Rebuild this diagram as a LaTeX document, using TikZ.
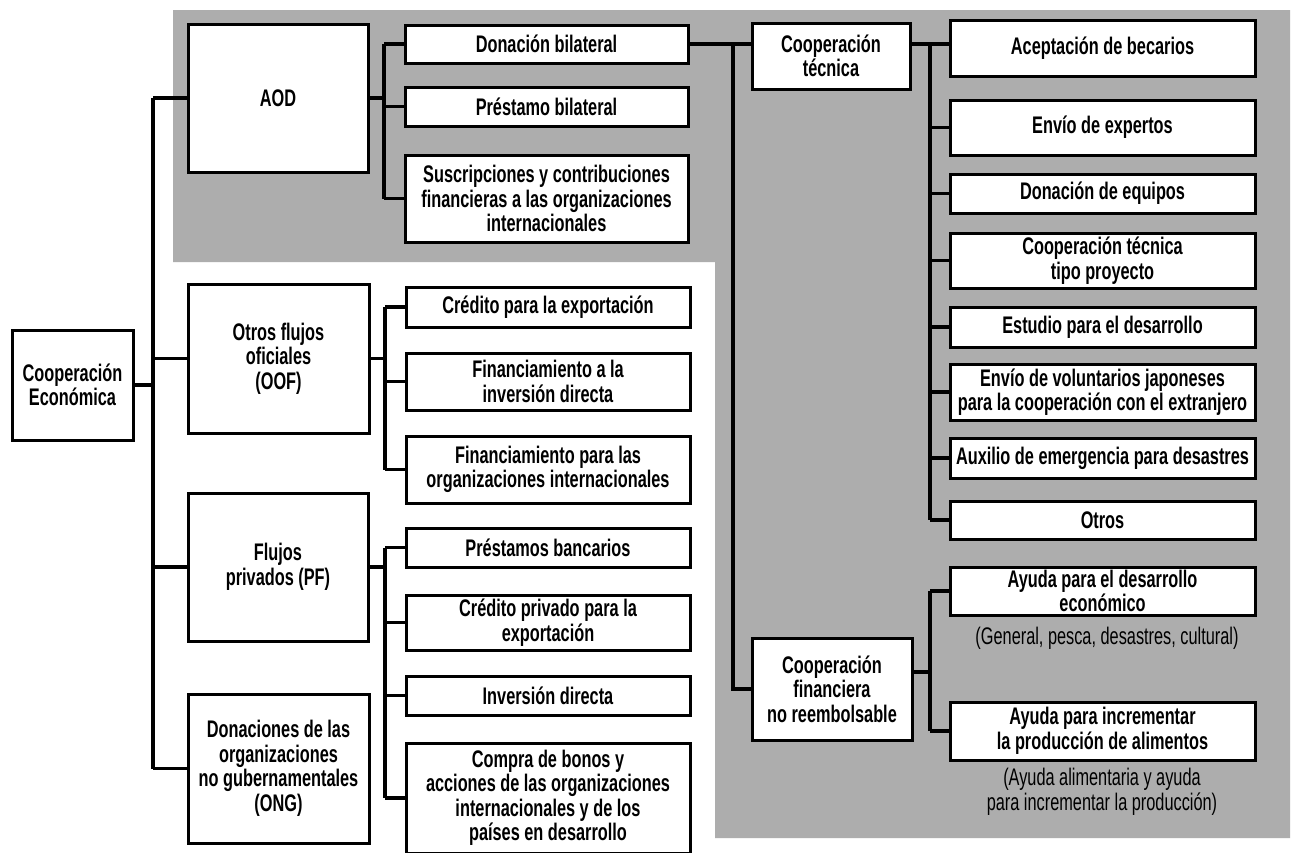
\documentclass[tikz,border=0pt]{standalone}
\usepackage{fontspec}
\setmainfont{Liberation Sans}[FakeStretch=0.68]
\definecolor{bggray}{gray}{0.68}
\begin{document}
\begin{tikzpicture}[x=1pt,y=-1pt,
  box/.style={draw=black, line width=3pt, fill=white, inner sep=0pt, align=center,
    font=\bfseries\fontsize{24}{24.5}\selectfont},
  wh/.style 2 args={minimum width=#1pt, minimum height=#2pt},
  link/.style={draw=black, line width=3.2pt},
  note/.style={align=center, font=\fontsize{24}{24.5}\selectfont}]
\useasboundingbox (0,0) rectangle (1295,852);
\fill[white] (0,0) rectangle (1295,852);
\fill[bggray] (173,10) -- (1290,10) -- (1290,838) -- (715,838) -- (715,262) -- (173,262) -- cycle;

% first level
\node[box, wh={121}{110}] (econ) at (72.5,385) {Cooperación\\Económica};
\node[box, wh={180}{148}] (aod) at (278,98) {AOD};
\node[box, wh={181}{149}] (oof) at (278.5,358.5) {Otros flujos\\oficiales\\(OOF)};
\node[box, wh={180}{148}] (pf) at (278,567) {Flujos\\privados (PF)};
\node[box, wh={181}{149}] (ong) at (278.5,768.5) {Donaciones de las\\organizaciones\\no gubernamentales\\(ONG)};

% AOD children
\node[box, wh={283}{38}] (don) at (546.5,44) {Donación bilateral};
\node[box, wh={283}{39}] (pre) at (546.5,106.5) {Préstamo bilateral};
\node[box, wh={283}{87}] (sus) at (546.5,198.5) {Suscripciones y contribuciones\\financieras a las organizaciones\\internacionales};

% OOF children
\node[box, wh={284}{40}] (cre) at (548,307) {Crédito para la exportación};
\node[box, wh={284}{57}] (fii) at (548,381.5) {Financiamiento a la\\inversión directa};
\node[box, wh={284}{67}] (fio) at (548,469.5) {Financiamiento para las\\organizaciones internacionales};

% PF children
\node[box, wh={284}{39}] (pb) at (548,547.5) {Préstamos bancarios};
\node[box, wh={284}{55}] (cp) at (548,622.5) {Crédito privado para la\\exportación};
\node[box, wh={284}{39}] (id) at (548,695.5) {Inversión directa};
\node[box, wh={284}{110}] (cb) at (548,798) {Compra de bonos y\\acciones de las organizaciones\\internacionales y de los\\países en desarrollo};

% Donacion bilateral branches
\node[box, wh={158}{66}] (ct) at (831,56) {Cooperación\\técnica};
\node[box, wh={160}{102}] (cf) at (832,689) {Cooperación\\financiera\\no reembolsable};

% tech children
\node[box, wh={305}{56}] (ab) at (1102.5,48) {Aceptación de becarios};
\node[box, wh={305}{55}] (ee) at (1102.5,127.5) {Envío de expertos};
\node[box, wh={305}{39}] (de) at (1102.5,193.5) {Donación de equipos};
\node[box, wh={305}{55}] (ctp) at (1102.5,260.5) {Cooperación técnica\\tipo proyecto};
\node[box, wh={305}{40}] (ed) at (1102.5,327) {Estudio para el desarrollo};
\node[box, wh={305}{56}] (ev) at (1102.5,392) {Envío de voluntarios japoneses\\para la cooperación con el extranjero};
\node[box, wh={305}{40}] (ae) at (1102.5,458) {Auxilio de emergencia para desastres};
\node[box, wh={305}{38}] (ot) at (1102.5,520) {Otros};

% financial children
\node[box, wh={305}{48}] (ad) at (1102.5,591) {Ayuda para el desarrollo\\económico};
\node[box, wh={305}{58}] (ai) at (1102.5,731) {Ayuda para incrementar\\la producción de alimentos};
\node[note] (n1) at (1107,638) {(General, pesca, desastres, cultural)};
\node[note] (n2) at (1102,792) {(Ayuda alimentaria y ayuda\\para incrementar la producción)};

% connectors
\coordinate (T) at (153,0);
\coordinate (A) at (384,0);
\coordinate (B) at (385,0);
\coordinate (C) at (733,0);
\coordinate (D) at (930,0);

\draw[link] (econ.east) -- (econ.east -| T);
\draw[link] (aod.west -| T) -- (ong.west -| T);
\foreach \n in {aod,oof,pf,ong} \draw[link] (\n.west -| T) -- (\n.west);

\draw[link] (aod.east) -- (aod.east -| A);
\draw[link] (don.west -| A) -- (sus.west -| A);
\foreach \n in {don,pre,sus} \draw[link] (\n.west -| A) -- (\n.west);

\draw[link] (oof.east) -- (oof.east -| B);
\draw[link] (cre.west -| B) -- (fio.west -| B);
\foreach \n in {cre,fii,fio} \draw[link] (\n.west -| B) -- (\n.west);

\draw[link] (pf.east) -- (pf.east -| B);
\draw[link] (pb.west -| B) -- (cb.west -| B);
\foreach \n in {pb,cp,id,cb} \draw[link] (\n.west -| B) -- (\n.west);

\draw[link] (don.east) -- (don.east -| ct.west);
\draw[link] (don.east -| C) -- (cf.west -| C) -- (cf.west);

\draw[link] (ct.east |- don.east) -- (ab.west |- don.east);
\draw[link] (don.east -| D) -- (ot.west -| D);
\foreach \n in {ee,de,ctp,ed,ev,ae,ot} \draw[link] (\n.west -| D) -- (\n.west);

\draw[link] ([yshift=17pt]cf.east) -- ([yshift=17pt]cf.east -| D);
\draw[link] (ad.west -| D) -- (ai.west -| D);
\foreach \n in {ad,ai} \draw[link] (\n.west -| D) -- (\n.west);
\end{tikzpicture}
\end{document}
